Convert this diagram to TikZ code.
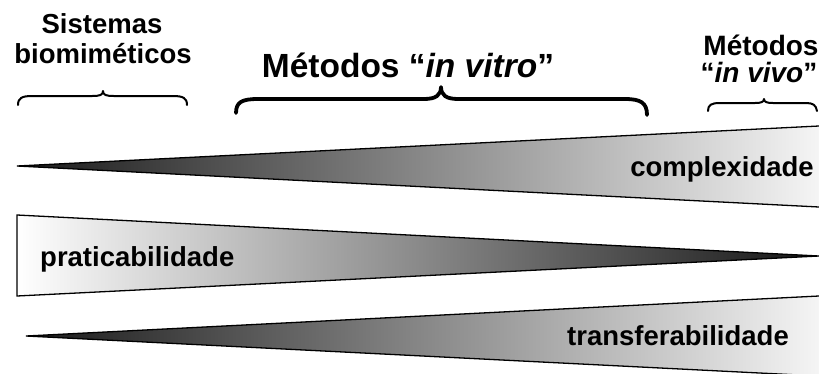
\documentclass[tikz,border=0pt]{standalone}
\usepackage{fontspec}
\setmainfont{Liberation Sans}
\begin{document}
\begin{tikzpicture}[x=1pt,y=-1pt,
  lbl/.style={font=\fontsize{27.5}{30}\selectfont\bfseries, inner sep=0pt, anchor=base},
  biglbl/.style={font=\fontsize{33.5}{36}\selectfont\bfseries, inner sep=0pt, anchor=base},
  toplbl/.style={font=\fontsize{28}{30}\selectfont\bfseries, inner sep=0pt, anchor=base},
  edge/.style={draw=black, line width=1.3pt, line join=miter},
  bracestroke/.style={draw=black, line cap=round, line join=round}]
\useasboundingbox (0,0) rectangle (819,373);

% --- wedge: complexidade (dark tip on the left, widening to the right)
\shade[left color=black!90, right color=black!4]
  (17,166) -- (819,126) -- (819,207) -- cycle;
\draw[edge] (819,126) -- (17,166) -- (819,207);
\node[lbl] (cplx) at (722,176) {complexidade};

% --- wedge: praticabilidade (wide light end on the left, dark tip on the right)
\shade[left color=white, right color=black!92]
  (17,215) -- (819,256) -- (17,296) -- cycle;
\draw[edge] (819,256) -- (17,215) -- (17,296) -- cycle;
\node[lbl, anchor=base west] (prat) at (40,266) {praticabilidade};

% --- wedge: transferabilidade
\shade[left color=black!90, right color=black!4]
  (26,336) -- (819,296) -- (819,376) -- cycle;
\draw[edge] (819,296) -- (26,336) -- (819,376);
\node[lbl, anchor=base west] (transf) at (567,345) {transferabilidade};

% --- group labels
\node[lbl] (sist1) at (102,33) {Sistemas};
\node[lbl] (sist2) at (103,63) {biomiméticos};
\node[biglbl] (vitro) at (408,77) {Métodos “\textit{in vitro}”};
\node[toplbl] (vivo1) at (761,55) {Métodos};
\node[toplbl] (vivo2) at (759,82) {“\textit{in vivo}”};

% --- braces over the three groups
\draw[bracestroke, line width=2pt]
  (18,105) .. controls (18,98) and (22,96) .. (32,96) -- (92,96)
  .. controls (100,96) and (103,95) .. (103,91)
  .. controls (103,95) and (106,96) .. (114,96) -- (173,96)
  .. controls (183,96) and (187,98) .. (187,105);
\draw[bracestroke, line width=3.8pt]
  (236,113) .. controls (236,102) and (242,99) .. (258,99) -- (424,99)
  .. controls (436,99) and (441,95) .. (441,87)
  .. controls (441,95) and (446,99) .. (458,99) -- (625,99)
  .. controls (641,99) and (647,103) .. (647,115);
\draw[bracestroke, line width=2pt]
  (708,111) .. controls (708,105) and (711,103) .. (720,103) -- (755,103)
  .. controls (761,103) and (764,102) .. (764,99)
  .. controls (764,102) and (767,103) .. (773,103) -- (806,103)
  .. controls (813,103) and (816,105) .. (817,111);
\end{tikzpicture}
\end{document}
